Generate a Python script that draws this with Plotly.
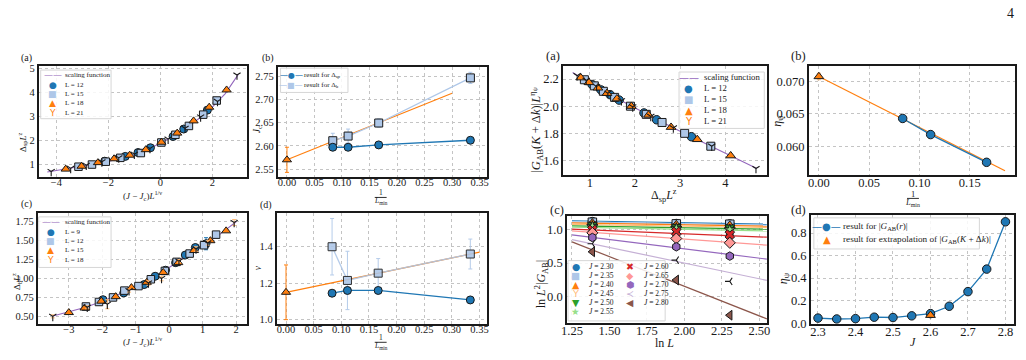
import plotly.graph_objects as go

W, H = 1026, 360
SERIF = "Liberation Serif"
SYM = "DejaVu Sans"
INK = "#1a1a1a"
C0, C1, C2, C3 = "#1f77b4", "#aec7e8", "#ff7f0e", "#ffbb78"
C4, C5, C6, C7 = "#2ca02c", "#98df8a", "#d62728", "#ff9896"
C8, C9, C10 = "#9467bd", "#c5b0d5", "#8c564b"

# ---------------- data ----------------
# left (a): Delta_sp L^z vs (J-Jc) L^(1/nu)
la_sf_x = [-4.35, -4.0, -3.5, -3.0, -2.5, -2.0, -1.5, -1.0, -0.5, 0.0, 0.5, 1.0, 1.5, 2.0, 2.5, 3.0]
la_sf_y = [0.68, 0.74, 0.82, 0.91, 1.01, 1.12, 1.25, 1.40, 1.62, 1.88, 2.18, 2.52, 2.92, 3.38, 3.95, 4.75]
la_L12_x = [-2.14, -1.35, -0.86, -0.38, 0.49, 0.90, 1.81]
la_L12_y = [1.13, 1.33, 1.49, 1.69, 2.16, 2.47, 3.26]
la_L15_x = [-3.15, -2.63, -2.10, -1.54, -0.75, 0.04, 0.58, 1.10, 1.65, 2.17]
la_L15_y = [0.90, 0.99, 1.11, 1.27, 1.47, 1.91, 2.23, 2.60, 3.07, 3.66]
la_L18_x = [-3.64, -3.03, -2.40, -1.78, -1.18, -0.56, 0.04, 0.65, 1.28, 1.88, 2.55]
la_L18_y = [0.80, 0.92, 1.07, 1.23, 1.38, 1.61, 1.92, 2.30, 2.81, 3.38, 4.10]
la_L21_x = [-4.20, -3.45, -2.85, -2.25, -1.60, -1.00, -0.40, 0.30, 0.95, 1.55, 2.20, 2.95]
la_L21_y = [0.70, 0.83, 0.96, 1.10, 1.27, 1.42, 1.66, 2.05, 2.50, 2.97, 3.62, 4.72]

# left (b): Jc vs 1/Lmin
lb_x = [0.0833, 0.1111, 0.1667, 0.3333]
lb_sp = [2.597, 2.597, 2.602, 2.612]
lb_sp_err = [0.003, 0.003, 0.003, 0.003]
lb_b = [2.611, 2.621, 2.649, 2.746]
lb_b_err = [0.016, 0.015, 0.009, 0.012]
lb_fit_x = [0.0, 0.30]
lb_fit_y = [2.570, 2.713]
lb_ext_x = [0.0]
lb_ext_y = [2.570]
lb_ext_err = [0.027]

# left (c): Delta_b L^z vs (J-Jc) L^(1/nu)
lc_sf_x = [-3.5, -3.0, -2.5, -2.0, -1.5, -1.0, -0.5, 0.0, 0.5, 1.0, 1.5, 2.0]
lc_sf_y = [0.50, 0.555, 0.62, 0.70, 0.79, 0.885, 0.99, 1.14, 1.30, 1.43, 1.58, 1.75]
lc_L9_x = [-1.98, -1.36, -0.75, -0.42, -0.11, 0.19, 0.48, 0.78, 1.10]
lc_L9_y = [0.72, 0.81, 0.92, 1.03, 1.11, 1.21, 1.31, 1.41, 1.46]
lc_L9_err = [0.01, 0.01, 0.01, 0.01, 0.01, 0.01, 0.01, 0.015, 0.08]
lc_L12_x = [-2.49, -2.10, -1.68, -1.34, -0.92, -0.55, -0.13, 0.22, 0.61, 1.04, 1.40]
lc_L12_y = [0.63, 0.69, 0.75, 0.84, 0.90, 0.99, 1.10, 1.22, 1.33, 1.44, 1.58]
lc_L15_x = [-3.00, -2.53, -2.03, -1.60, -1.13, -0.67, -0.18, 0.27, 0.74, 1.23, 1.70]
lc_L15_y = [0.55, 0.61, 0.70, 0.76, 0.88, 0.95, 1.08, 1.21, 1.37, 1.50, 1.63]
lc_L18_x = [-3.48, -2.45, -1.85, -1.20, -0.62, -0.23, 0.29, 0.80, 1.15, 1.94]
lc_L18_y = [0.50, 0.62, 0.66, 0.84, 0.94, 1.00, 1.23, 1.39, 1.47, 1.74]
lc_L18_err = [0.02, 0.02, 0.06, 0.02, 0.03, 0.03, 0.02, 0.03, 0.03, 0.04]

# left (d): nu vs 1/Lmin
ld_x = [0.0833, 0.1111, 0.1667, 0.3333]
ld_sp = [1.145, 1.160, 1.160, 1.108]
ld_sp_err = [0.01, 0.01, 0.01, 0.015]
ld_b = [1.400, 1.215, 1.255, 1.360]
ld_b_err = [0.155, 0.160, 0.080, 0.082]
ld_fit_x = [0.0, 0.35]
ld_fit_y = [1.15, 1.37]
ld_ext_x = [0.0]
ld_ext_y = [1.15]
ld_ext_err = [0.15]

# right (a): |G_AB| L^eta vs Delta_sp L^z
ra_sf_x = [0.62, 1.0, 1.5, 2.0, 2.5, 3.0, 3.5, 4.0, 4.7]
ra_sf_y = [2.248, 2.17, 2.075, 1.985, 1.90, 1.815, 1.735, 1.655, 1.54]
ra_L12_x = [1.05, 1.25, 1.45, 1.65, 2.20, 2.48, 3.25]
ra_L12_y = [2.16, 2.12, 2.085, 2.045, 1.95, 1.90, 1.775]
ra_L15_x = [0.88, 1.10, 1.30, 1.55, 1.90, 2.25, 2.60, 3.10, 3.68]
ra_L15_y = [2.195, 2.15, 2.11, 2.065, 2.00, 1.94, 1.88, 1.80, 1.705]
ra_L18_x = [0.80, 0.98, 1.18, 1.38, 1.60, 1.92, 2.30, 2.80, 3.38, 4.12]
ra_L18_y = [2.21, 2.175, 2.135, 2.095, 2.055, 2.00, 1.935, 1.845, 1.755, 1.635]
ra_L21_x = [0.72, 0.92, 1.15, 1.40, 1.70, 1.95, 2.35, 2.85, 3.70, 4.68]
ra_L21_y = [2.225, 2.19, 2.145, 2.095, 2.04, 1.995, 1.925, 1.84, 1.705, 1.54]

# right (b): eta_psi vs 1/Lmin
rb_x = [0.0833, 0.1111, 0.1667]
rb_y = [0.0643, 0.0618, 0.0575]
rb_fit_x = [0.0, 0.185]
rb_fit_y = [0.0708, 0.0562]
rb_ext_x = [0.0]
rb_ext_y = [0.0708]
rb_ext_err = [0.0005]

# right (c): ln L^2 |G_AB| vs ln L
rc_lnL = [1.386, 1.946, 2.303]
rc_J = ["2.30", "2.35", "2.40", "2.45", "2.50", "2.55", "2.60", "2.65", "2.70", "2.75", "2.80"]
rc_y230 = [1.125, 1.095, 1.090]
rc_y235 = [1.115, 1.090, 1.085]
rc_y240 = [1.105, 1.080, 1.070]
rc_y245 = [1.090, 1.060, 1.050]
rc_y250 = [1.075, 1.045, 1.040]
rc_y255 = [1.050, 1.020, 1.000]
rc_y260 = [1.000, 0.970, 0.930]
rc_y265 = [0.955, 0.870, 0.805]
rc_y270 = [0.885, 0.745, 0.605]
rc_y275 = [0.790, 0.545, 0.225]
rc_y280 = [0.670, 0.245, -0.285]
rc_fit_x = [1.25, 2.55]
rc_fit_start = [1.137, 1.120, 1.105, 1.083, 1.060, 1.040, 1.010, 0.985, 0.925, 0.854, 0.820]
rc_fit_end = [1.085, 1.070, 1.055, 1.035, 1.010, 0.985, 0.890, 0.770, 0.560, 0.240, -0.340]

# right (d): eta_psi vs J
rd_J = [2.30, 2.35, 2.40, 2.45, 2.50, 2.55, 2.60, 2.65, 2.70, 2.75, 2.80]
rd_eta = [0.045, 0.037, 0.040, 0.053, 0.050, 0.065, 0.085, 0.150, 0.280, 0.480, 0.900]
rd_eta_err = [0.004, 0.004, 0.004, 0.004, 0.004, 0.004, 0.005, 0.006, 0.008, 0.010, 0.012]
rd_ext_J = [2.60]
rd_ext = [0.070]
rd_ext_err = [0.010]

# ---------------- layout helpers ----------------
def px(x):
    return x / W


def py(y):
    return 1 - y / H


boxes = [(33, 243, 65, 179), (274, 485, 66, 179), (32, 243, 216, 330), (273, 485, 216, 330),
         (562, 768, 65, 177), (810, 1018, 65, 177), (566, 768, 219, 329), (812, 1017, 218, 330)]

specs = [
    dict(xr=[-4.68, 3.33], xt0=0, xdt=2, xf="", yr=[0.47, 5.09], yt0=0, ydt=1, yf="", s=10.5),
    dict(xr=[-0.017, 0.363], xt0=0, xdt=0.05, xf=".2f", yr=[2.533, 2.769], yt0=2.55, ydt=0.05, yf=".2f", s=10.5),
    dict(xr=[-3.93, 2.32], xt0=0, xdt=1, xf="", yr=[0.401, 1.866], yt0=0.5, ydt=0.25, yf=".2f", s=10.5),
    dict(xr=[-0.017, 0.363], xt0=0, xdt=0.05, xf=".2f", yr=[0.977, 1.585], yt0=1.0, ydt=0.2, yf=".1f", s=10.5),
    dict(xr=[0.408, 4.93], xt0=0, xdt=1, xf="", yr=[1.492, 2.295], yt0=1.6, ydt=0.2, yf=".1f", s=12.5),
    dict(xr=[-0.0099, 0.195], xt0=0, xdt=0.05, xf=".2f", yr=[0.05552, 0.0724], yt0=0.06, ydt=0.005, yf=".3f", s=12.5),
    dict(xr=[1.217, 2.553], xt0=1.25, xdt=0.25, xf=".2f", yr=[-0.40, 1.21], yt0=0, ydt=0.5, yf=".1f", s=12.5),
    dict(xr=[2.281, 2.823], xt0=2.3, xdt=0.1, xf=".1f", yr=[-0.006, 0.961], yt0=0, ydt=0.2, yf=".1f", s=12.5),
]


def axis_style(size):
    return dict(showline=True, mirror=True, linecolor=INK, linewidth=1.6,
                ticks="",
                showgrid=True, gridcolor="#c4c4c4", griddash="dot", gridwidth=0.8,
                zeroline=False, tickfont=dict(family=SERIF, size=size, color=INK))


layout_axes = {}
for i, (box, sp) in enumerate(zip(boxes, specs), start=1):
    l, r, t, b = box
    xk = "xaxis" if i == 1 else f"xaxis{i}"
    yk = "yaxis" if i == 1 else f"yaxis{i}"
    xa = axis_style(sp["s"])
    xa.update(domain=[px(l), px(r)], range=sp["xr"], tick0=sp["xt0"], dtick=sp["xdt"],
              tickformat=sp["xf"], anchor="y" if i == 1 else f"y{i}", ticklabelstandoff=-5)
    ya = axis_style(sp["s"])
    ya.update(domain=[py(b), py(t)], range=sp["yr"], tick0=sp["yt0"], dtick=sp["ydt"],
              tickformat=sp["yf"], anchor="x" if i == 1 else f"x{i}")
    layout_axes[xk] = xa
    layout_axes[yk] = ya


def axref(i):
    return ("x", "y") if i == 1 else (f"x{i}", f"y{i}")


fig = go.Figure()


def add(i, x, y, mode="markers", symbol="circle", color=C0, size=8, lw=1.0, lcolor=INK,
        line=None, err=None, errcolor=None, opacity=1.0):
    xr, yr = axref(i)
    kw = dict(x=x, y=y, mode=mode, xaxis=xr, yaxis=yr, showlegend=False, opacity=opacity,
              hoverinfo="skip")
    if "markers" in mode:
        kw["marker"] = dict(symbol=symbol, size=size, color=color,
                            line=dict(color=lcolor, width=lw))
    if line is not None:
        kw["line"] = line
    if err is not None:
        kw["error_y"] = dict(type="data", array=err, visible=True, color=errcolor or color,
                             thickness=1, width=2)
    fig.add_trace(go.Scatter(**kw))


SF = dict(color=C8, width=1.1)

# left (a)
add(1, la_sf_x, la_sf_y, mode="lines", line=SF)
add(1, la_L12_x, la_L12_y, symbol="circle", color=C0)
add(1, la_L15_x, la_L15_y, symbol="square", color=C1, size=7.5)
add(1, la_L18_x, la_L18_y, symbol="triangle-up", color=C2)
add(1, la_L21_x, la_L21_y, symbol="y-down", color=C2, lcolor=INK, lw=1.1, size=6)

# left (b)
add(2, lb_fit_x, lb_fit_y, mode="lines", line=dict(color=C2, width=1.2))
add(2, lb_x, lb_b, mode="lines+markers", symbol="square", color=C1, size=8,
    line=dict(color=C1, width=1.3), err=lb_b_err, errcolor=C1)
add(2, lb_x, lb_sp, mode="lines+markers", symbol="circle", color=C0, size=8,
    line=dict(color=C0, width=1.3), err=lb_sp_err, errcolor=C0)
add(2, lb_ext_x, lb_ext_y, symbol="triangle-up", color=C2, size=8, err=lb_ext_err, errcolor=C2)

# left (c)
add(3, lc_sf_x, lc_sf_y, mode="lines", line=SF)
add(3, lc_L9_x, lc_L9_y, symbol="circle", color=C0, err=lc_L9_err, errcolor=C0)
add(3, lc_L12_x, lc_L12_y, symbol="square", color=C1, size=7.5)
add(3, lc_L15_x, lc_L15_y, symbol="triangle-up", color=C2)
add(3, lc_L18_x, lc_L18_y, symbol="y-down", color=C2, lcolor=INK, lw=1.1, size=6,
    err=lc_L18_err, errcolor=C3)

# left (d)
add(4, ld_fit_x, ld_fit_y, mode="lines", line=dict(color=C2, width=1.2))
add(4, ld_x, ld_b, mode="lines+markers", symbol="square", color=C1, size=8,
    line=dict(color=C1, width=1.3), err=ld_b_err, errcolor=C1, opacity=0.9)
add(4, ld_x, ld_sp, mode="lines+markers", symbol="circle", color=C0, size=8,
    line=dict(color=C0, width=1.3), err=ld_sp_err, errcolor=C0)
add(4, ld_ext_x, ld_ext_y, symbol="triangle-up", color=C2, size=8, err=ld_ext_err, errcolor=C2)

# right (a)
add(5, ra_sf_x, ra_sf_y, mode="lines", line=SF)
add(5, ra_L12_x, ra_L12_y, symbol="circle", color=C0, size=8.5)
add(5, ra_L15_x, ra_L15_y, symbol="square", color=C1, size=8)
add(5, ra_L18_x, ra_L18_y, symbol="triangle-up", color=C2, size=8.5)
add(5, ra_L21_x, ra_L21_y, symbol="y-down", color=C2, lcolor=INK, lw=1.1, size=6)

# right (b)
add(6, rb_fit_x, rb_fit_y, mode="lines", line=dict(color=C2, width=1.2))
add(6, rb_x, rb_y, mode="lines+markers", symbol="circle", color=C0, size=8.5,
    line=dict(color=C0, width=1.3))
add(6, rb_ext_x, rb_ext_y, symbol="triangle-up", color=C2, size=8.5, err=rb_ext_err, errcolor=C3)

# right (c)
rc_vals = [rc_y230, rc_y235, rc_y240, rc_y245, rc_y250, rc_y255,
           rc_y260, rc_y265, rc_y270, rc_y275, rc_y280]
rc_colors = [C0, C1, C2, C3, C4, C5, C6, C7, C8, C9, C10]
rc_symbols = ["circle", "square", "triangle-up", "y-down", "triangle-down", "star",
              "x", "diamond", "hexagon", "y-left", "triangle-left"]
for k in range(len(rc_J)):
    add(7, rc_fit_x, [rc_fit_start[k], rc_fit_end[k]], mode="lines",
        line=dict(color=rc_colors[k], width=1.2))
for k in range(len(rc_J)):
    sym = rc_symbols[k]
    if sym.startswith("y-"):
        add(7, rc_lnL, rc_vals[k], symbol=sym, color=rc_colors[k], lcolor=INK, lw=1.1, size=6)
    else:
        add(7, rc_lnL, rc_vals[k], symbol=sym, color=rc_colors[k], size=8.5)

# right (d)
add(8, rd_J, rd_eta, mode="lines+markers", symbol="circle", color=C0, size=8.5,
    line=dict(color=C0, width=1.3), err=rd_eta_err, errcolor=C0)
add(8, rd_ext_J, rd_ext, symbol="triangle-up", color=C2, size=8.5, err=rd_ext_err, errcolor=C2)

# ---------------- annotations ----------------
anns = []
shapes = []


def ann(text, x, y, size, angle=0, xanchor="center", yanchor="middle", family=SERIF, color=INK):
    anns.append(dict(text=text, x=px(x), y=py(y), xref="paper", yref="paper", showarrow=False,
                     textangle=angle, xanchor=xanchor, yanchor=yanchor,
                     font=dict(family=family, size=size, color=color)))


def frac(x, y1, y2, size, half=6):
    ann("1", x, y1, size)
    shapes.append(dict(type="line", xref="paper", yref="paper", x0=px(x - half), x1=px(x + half),
                       y0=py((y1 + y2) / 2 + 0.5), y1=py((y1 + y2) / 2 + 0.5),
                       line=dict(color=INK, width=0.9)))
    ann("<i>L</i><sub>min</sub>", x, y2, size)


def legend(box, sym_x, txt_x, y0, dy, size, symsize, rows):
    l, r, t, b = box
    shapes.append(dict(type="rect", xref="paper", yref="paper", x0=px(l), x1=px(r),
                       y0=py(b), y1=py(t), fillcolor="rgba(255,255,255,0.85)",
                       line=dict(color="#d6d6d6", width=1)))
    for k, (sym, col, lab) in enumerate(rows):
        yy = y0 + k * dy
        ann(sym, sym_x, yy, symsize, family=SYM, color=col)
        ann(lab, txt_x, yy, size, xanchor="left")


# panel letters
ann("(a)", 21, 57, 10)
ann("(b)", 264, 57, 10)
ann("(c)", 21, 207, 10)
ann("(d)", 262, 208, 10)
ann("(a)", 552, 55, 12.5)
ann("(b)", 800, 55, 12.5)
ann("(c)", 556, 213, 12.5)
ann("(d)", 800, 213, 12.5)
ann("4", 1013, 11, 14)

# axis titles
ann("(<i>J</i> − <i>J</i><sub>c</sub>)<i>L</i><sup>1/ν</sup>", 138, 197.5, 9)
ann("Δ<sub>sp</sub><i>L</i><sup>z</sup>", 16, 143, 9, angle=-90)
ann("<i>J</i><sub>c</sub>", 254, 130, 9.5, angle=-90)
frac(378, 195, 204, 7.5)
ann("(<i>J</i> − <i>J</i><sub>c</sub>)<i>L</i><sup>1/ν</sup>", 138, 348.5, 9)
ann("Δ<sub>b</sub><i>L</i><sup>z</sup>", 10, 286, 9, angle=-90)
ann("<i>ν</i>", 255, 272, 9.5, angle=-90)
frac(378, 344, 353, 7.5)
ann("|<i>G</i><sub>AB</sub>(<i>K</i> + Δ<i>k</i>)|<i>L</i><sup>η<sub>ψ</sub></sup>", 535, 131, 12.5, angle=-90)
ann("Δ<sub>sp</sub><i>L</i><sup>z</sup>", 664, 198, 12)
ann("<i>η</i><sub>ψ</sub>", 778, 121, 12, angle=-90)
frac(915, 196, 205, 8.5)
ann("ln <i>L</i><sup>2</sup>|<i>G</i><sub>AB</sub>|", 541, 289, 12, angle=-90)
ann("ln <i>L</i>", 664, 350, 12)
ann("<i>η</i><sub>ψ</sub>", 785, 283, 12, angle=-90)
ann("<i>J</i>", 915, 349, 12)

# legends
LINE = "——"
legend((35, 106, 69, 119), 47, 57, 74.5, 9.6, 7, 9,
       [(LINE, C8, "scaling function"), ("●", C0, "L = 12"), ("■", C1, "L = 15"),
        ("▲", C2, "L = 18"), ("Y", C2, "L = 21")])
legend((277, 345, 67, 92), 288, 299, 74.5, 10, 7, 8,
       [("—●—", C0, "result for Δ<sub>sp</sub>"), ("—■—", C1, "result for Δ<sub>b</sub>")])
legend((33, 106, 220, 272), 45, 57, 225.5, 9.6, 7, 9,
       [(LINE, C8, "scaling function"), ("●", C0, "L = 9"), ("■", C1, "L = 12"),
        ("▲", C2, "L = 15"), ("Y", C2, "L = 18")])
legend((679, 765, 71, 129), 689, 702, 76.5, 11.3, 8.7, 10,
       [(LINE, C8, "scaling function"), ("●", C0, "L = 12"), ("■", C1, "L = 15"),
        ("▲", C2, "L = 18"), ("Y", C2, "L = 21")])
rc_syms = ["●", "■", "▲", "Y", "▼", "★", "✖", "◆", "⬢", "≺", "◀"]
legend((567, 665, 265, 327), 575, 586, 271, 9.2, 7.5, 9.5,
       [(rc_syms[k], rc_colors[k], f"<i>J</i> = {rc_J[k]}") for k in range(6)])
for k in range(6, 11):
    yy = 271 + (k - 6) * 9.2
    ann(rc_syms[k], 630, yy, 9.5, family=SYM, color=rc_colors[k])
    ann(f"<i>J</i> = {rc_J[k]}", 642, yy, 7.5, xanchor="left")
legend((815, 982, 221, 253), 828, 842, 230, 13, 9.2, 10,
       [("—●—", C0, "result for |<i>G</i><sub>AB</sub>(<i>r</i>)|"),
        ("▲", C2, "result for extrapolation of |<i>G</i><sub>AB</sub>(<i>K</i> + Δ<i>k</i>)|")])

fig.update_layout(width=W, height=H, margin=dict(l=0, r=0, t=0, b=0),
                  paper_bgcolor="white", plot_bgcolor="white", showlegend=False,
                  annotations=anns, shapes=shapes, **layout_axes)

fig.write_html("out.html")
